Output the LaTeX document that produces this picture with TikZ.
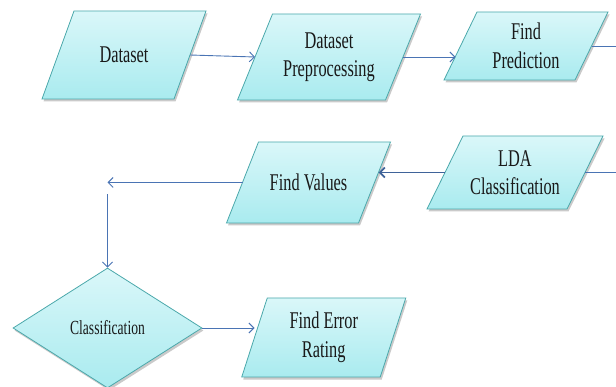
\documentclass[tikz,border=0pt]{standalone}
\usepackage{fontspec}
\setmainfont{Liberation Serif}[FakeStretch=0.68]
\usetikzlibrary{shapes.geometric,shadows,arrows.meta,backgrounds}
\definecolor{bord}{HTML}{4BA8AB}
\definecolor{fondhaut}{HTML}{DAF7F9}
\definecolor{fondbas}{HTML}{A9EBEF}
\definecolor{fleche}{HTML}{4A74B4}
\tikzset{
    boite/.style={draw=bord, line width=0.8pt, top color=fondhaut, bottom color=fondbas,
      drop shadow={shadow xshift=1.5pt, shadow yshift=-2.5pt, opacity=0.35, fill=black!60}},
    data/.style={rectangle, minimum width=#1, inner sep=0pt, outer sep=0pt,
      align=center, text=black!90, font=\fontsize{24}{28.5}\selectfont},
    choice/.style={boite, diamond, aspect=1.575, inner sep=0pt, text=black!90,
      font=\fontsize{20}{24}\selectfont},
    link/.style={draw=fleche, line width=0.9pt},
    flow/.style={link, -{Straight Barb[length=5pt,width=10pt]}},
  }
\begin{document}
\begin{tikzpicture}[x=1pt,y=-1pt]
  \useasboundingbox (0,0) rectangle (616,387);
  \coordinate (R) at (616,0);
  %LIGNE 1
  \node[data=132, minimum height=88] (D) at (124,55) {Dataset};
  \node[data=148, minimum height=86] (P) at (329,57) {Dataset\\Preprocessing};
  \node[data=131, minimum height=68] (F) at (526,46) {Find\\Prediction};
  %LIGNE 2
  \node[data=140, minimum height=73] (L) at (515,172.5) {LDA\\Classification};
  \node[data=132, minimum height=81] (V) at (308.5,182.5) {Find Values};
  %CLASSIFICATION
  \node[choice, minimum width=189pt, minimum height=120pt] (C) at (107.5,328) {Classification};
  \node[data=138.5, minimum height=79] (E) at (323.75,337.5) {Find Error\\Rating};
  %PARALLELOGRAMMES
  \begin{scope}[on background layer]
    \foreach \n/\s in {D/16,P/17.5,F/16.5,L/18,V/16,E/12.75}
      \path[boite] ([xshift=\s]\n.north west) -- ([xshift=\s]\n.north east)
        -- ([xshift=-\s]\n.south east) -- ([xshift=-\s]\n.south west) -- cycle;
  \end{scope}
  %FLECHES
  \draw[flow] (D.east) -- (P.west);
  \draw[flow, shorten >=5pt] (P.east) -- (P.east -| F.west);
  \draw[link] (F.east) -- (F.east -| R);
  \draw[link] (L.east -| R) -- (L.east);
  \draw[flow, line width=1.8pt, draw=fleche!85!black, shorten >=4pt] (L.west) -- (L.west -| V.east);
  \draw[flow] (V.west) -- (V.west -| C.north) coordinate (coin);
  \draw[flow] ([yshift=-12pt]coin) -- (C.north);
  \draw[flow] (C.east) -- (C.east -| E.west);
\end{tikzpicture}
\end{document}
